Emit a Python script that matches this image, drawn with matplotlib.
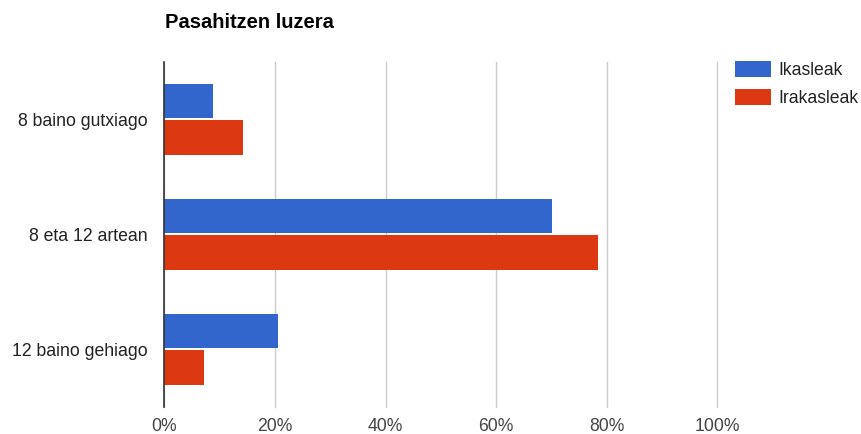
import matplotlib
matplotlib.use("Agg")
import matplotlib.pyplot as plt
from matplotlib.patches import Patch
import numpy as np

plt.rcParams['font.family'] = ['Liberation Sans', 'DejaVu Sans']

title = "Pasahitzen luzera"
categories = ["8 baino gutxiago", "8 eta 12 artean", "12 baino gehiago"]
series_names = ["Ikasleak", "Irakasleak"]
ikasleak = [8.8, 70.1, 20.6]
irakasleak = [14.3, 78.4, 7.1]
xticks = [0, 20, 40, 60, 80, 100]
xtick_labels = ["0%", "20%", "40%", "60%", "80%", "100%"]

blue = "#3366CC"
red = "#DC3912"
text_col = "#222222"
fs = 12.7

fig = plt.figure(figsize=(8.62, 4.34), dpi=100)
ax = fig.add_axes([164.3/862, 27.3/434, (717.3-164.3)/862, (406.7-61.7)/434])

y = np.arange(len(categories))
h = 0.30
off = 0.16
ax.barh(y - off, ikasleak, height=h, color=blue, zorder=3)
ax.barh(y + off, irakasleak, height=h, color=red, zorder=3)

ax.set_xlim(0, 100)
ax.set_ylim(len(categories) - 0.5, -0.5)
ax.set_xticks(xticks)
ax.set_xticklabels(xtick_labels, fontsize=fs, color="#444444")
ax.set_yticks(y)
ax.set_yticklabels(categories, fontsize=fs, color=text_col)
ax.tick_params(axis='both', length=0)
ax.tick_params(axis='x', pad=8)
ax.tick_params(axis='y', pad=12.2)
ax.grid(axis='x', color="#cccccc", linewidth=1, zorder=0)
for gl in ax.xaxis.get_gridlines():
    gl.set_clip_on(False)
for s in ['top', 'right', 'bottom']:
    ax.spines[s].set_visible(False)
ax.spines['left'].set_color('#333333')
ax.spines['left'].set_linewidth(1.2)
ax.spines['left'].set_zorder(4)

fig.text(165/862, 1 - 22/434, title, fontsize=14.5, fontweight='bold',
         color="#000000", ha='left', va='center')

handles = [Patch(facecolor=blue, edgecolor='none'), Patch(facecolor=red, edgecolor='none')]
leg = fig.legend(handles, series_names, loc='upper left',
                 bbox_to_anchor=(735.5/862, 1 - 61/434), frameon=False,
                 fontsize=fs, handlelength=2.0, handleheight=1.02,
                 handletextpad=0.45, labelspacing=0.57, borderaxespad=0,
                 borderpad=0)
for t in leg.get_texts():
    t.set_color(text_col)

fig.savefig("out.png", dpi=100, facecolor='white')
